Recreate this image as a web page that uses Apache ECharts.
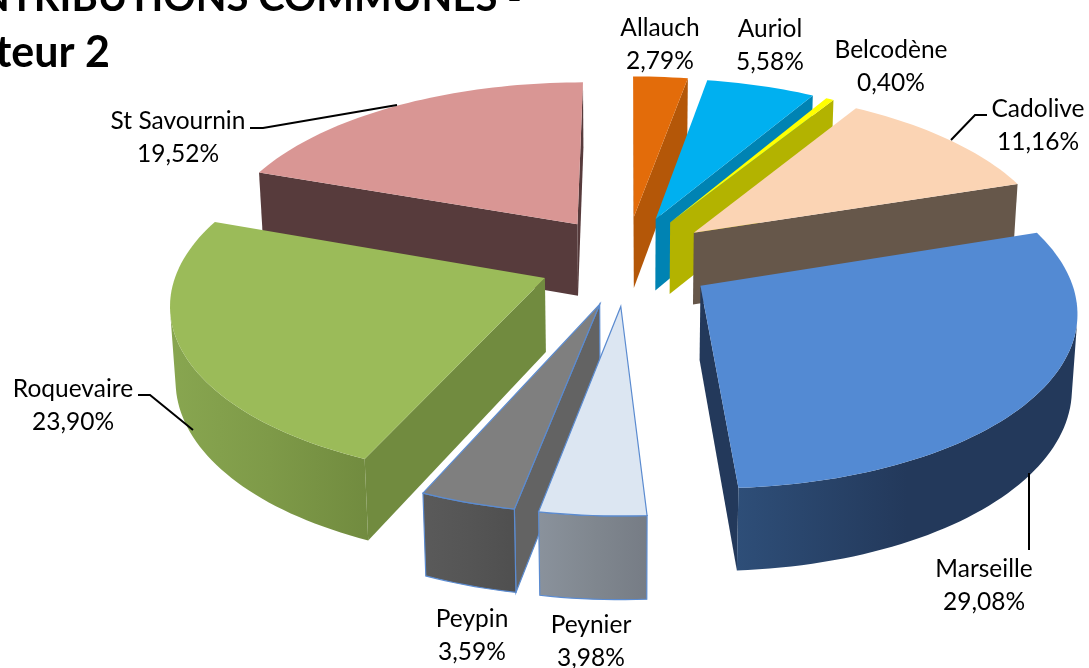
<!DOCTYPE html>
<html><head><meta charset="utf-8">
<style>html,body{margin:0;padding:0;background:#fff}#c{width:1089px;height:668px}</style>
<script src="https://cdn.jsdelivr.net/npm/echarts@6/dist/echarts.min.js"></script>
</head><body><div id="c"></div>
<script>
// ---- data ----
const categories = ['Allauch','Auriol','Belcodène','Cadolive','Marseille','Peynier','Peypin','Roquevaire','St Savournin'];
const shares = [2.79,5.58,0.40,11.16,29.08,3.98,3.59,23.90,19.52];
const titleLines = ['CONTRIBUTIONS COMMUNES -','Secteur 2'];
// ---- styles ----
const topColors = ['#E36C0A','#00B0F0','#FFFF00','#FBD4B4','#538AD3','#DCE6F2','#7F7F7F','#9BBB59','#D99694'];
const sideColors = ['#B45708','#0083B3','#B3B300','#66574A','#23395B','#7C838C','#636363','#718B3F','#573B3C'];
const outerFrom = ['#B45708','#0083B3','#B3B300','#66574A','#2E4E78','#8A929C','#5A5A5A','#88A650','#573B3C'];
const outerMid = ['#B45708','#0083B3','#B3B300','#66574A','#23395B','#80878F','#555555','#7E9A48','#573B3C'];
const outerTo = ['#B45708','#0083B3','#B3B300','#66574A','#23395B','#767C85','#4F4F4F','#718B3F','#573B3C'];
const edgeColors = [null,null,null,null,null,'#5B8BD0','#5B8BD0',null,null];
// ---- projection settings ----
const cam = {cx:626.5, cy:260, A:365, B:169, D:74, p:0.13, s:0.012, ex:0.24, ey:0.266};
// ---- label layout: centre of the two-line label, and optional leader line ----
const labelAt = [[660,44.5],[770,45.5],[891,66.5],[1038,125.5],[984,585.5],[591,641.5],[472,635.5],[73,405.5],[178,138]];
const leaders = [null,null,null,[[987,115],[975,115],[951,140]],[[1029,473],[1029,550]],null,null,
  [[138,395],[150,395],[193,430]],[[250,128],[263,128],[397,105]]];

const rad = d => d*Math.PI/180;
const total = shares.reduce((a,b)=>a+b,0);
const starts = []; shares.reduce((acc,v,i)=>{starts[i]=acc; return acc+v/total*360;},0);
function project(x,y,bottom){
  const w = 1 + cam.p*y + (bottom?cam.s:0);
  return [cam.cx + cam.A*x/w, cam.cy - cam.B*y/w + (bottom?cam.D/w:0)];
}
function quadArea(q){let a=0;for(let i=0;i<4;i++){const u=q[i],v=q[(i+1)%4];a+=u[0]*v[1]-v[0]*u[1];}return a;}

function renderSlice(params, api){
  const i = api.value(0);
  const a = starts[i], b = a + api.value(1)/total*360, mid = (a+b)/2;
  const ox = cam.ex*Math.sin(rad(mid)), oy = cam.ey*Math.cos(rad(mid));
  const pt = (th,bottom)=>project(ox+Math.sin(rad(th)), oy+Math.cos(rad(th)), bottom);
  const apex = project(ox,oy,false), apexB = project(ox,oy,true);
  const n = Math.max(2,Math.ceil((b-a)/1.5));
  const ths = []; for(let k=0;k<=n;k++) ths.push(a+(b-a)*k/n);
  const edge = edgeColors[i];
  const stroke = edge ? {stroke:edge,lineWidth:1.2} : {stroke:null};
  const children = [];
  // radial faces, when they face the viewer
  [[apex,apexB,pt(a,false),pt(a,true)],[pt(b,false),pt(b,true),apex,apexB]].forEach(f=>{
    const q=[f[0],f[2],f[3],f[1]];
    if(quadArea(q)<0) children.push({type:'polygon',shape:{points:q},style:Object.assign({fill:sideColors[i]},stroke)});
  });
  // outer curved face: only the segments that face the viewer
  let vis=[];
  for(let k=0;k<n;k++){
    const q=[pt(ths[k],false),pt(ths[k+1],false),pt(ths[k+1],true),pt(ths[k],true)];
    if(quadArea(q)<0){ if(!vis.length) vis.push(ths[k]); vis.push(ths[k+1]); }
  }
  if(vis.length){
    const topEdge = vis.map(t=>pt(t,false)), botEdge = vis.map(t=>pt(t,true)).reverse();
    children.push({type:'polygon',shape:{points:topEdge.concat(botEdge)},style:Object.assign({
      fill:new echarts.graphic.LinearGradient(0,0,1,0,[
        {offset:0,color:outerFrom[i]},{offset:0.5,color:outerMid[i]},{offset:1,color:outerTo[i]}])},stroke)});
  }
  // top face
  children.push({type:'polygon',shape:{points:[apex].concat(ths.map(t=>pt(t,false)))},
    style:Object.assign({fill:topColors[i]},stroke)});
  return {type:'group',children};
}
function renderLabel(params, api){
  const i = api.value(0);
  const pct = api.value(1).toFixed(2).replace('.',',')+'%';
  const children = [{type:'text',x:labelAt[i][0],y:labelAt[i][1],style:{
    text:categories[i]+'\n'+pct,fill:'#000',font:'24.5px Lato',lineHeight:33,align:'center',verticalAlign:'middle'}}];
  if(leaders[i]) children.push({type:'polyline',shape:{points:leaders[i]},style:{stroke:'#000',lineWidth:2,fill:null}});
  return {type:'group',children};
}
const idx = categories.map((_,i)=>i);
const mids = idx.map(i=>starts[i]+shares[i]/total*180);
const drawOrder = idx.slice().sort((u,v)=>Math.cos(rad(mids[v]))-Math.cos(rad(mids[u])));

const chart = echarts.init(document.getElementById('c'),null,{renderer:'canvas'});
chart.setOption({
  animation:false,
  backgroundColor:'#fff',
  title:[
    {text:titleLines[0],left:522,top:-22,textAlign:'right',padding:0,textStyle:{fontFamily:'Lato',fontWeight:'bold',fontSize:40,color:'#000'}},
    {text:titleLines[1],left:110,top:32,textAlign:'right',padding:0,textStyle:{fontFamily:'Lato',fontWeight:'bold',fontSize:43,color:'#000'}}
  ],
  series:[
    {type:'custom',coordinateSystem:'none',renderItem:renderSlice,silent:true,clip:false,
     data:drawOrder.map(i=>[i,shares[i]]),dimensions:['slice','share']},
    {type:'custom',coordinateSystem:'none',renderItem:renderLabel,silent:true,clip:false,z:5,
     data:idx.map(i=>[i,shares[i]]),dimensions:['slice','share']}
  ]
});
</script></body></html>
